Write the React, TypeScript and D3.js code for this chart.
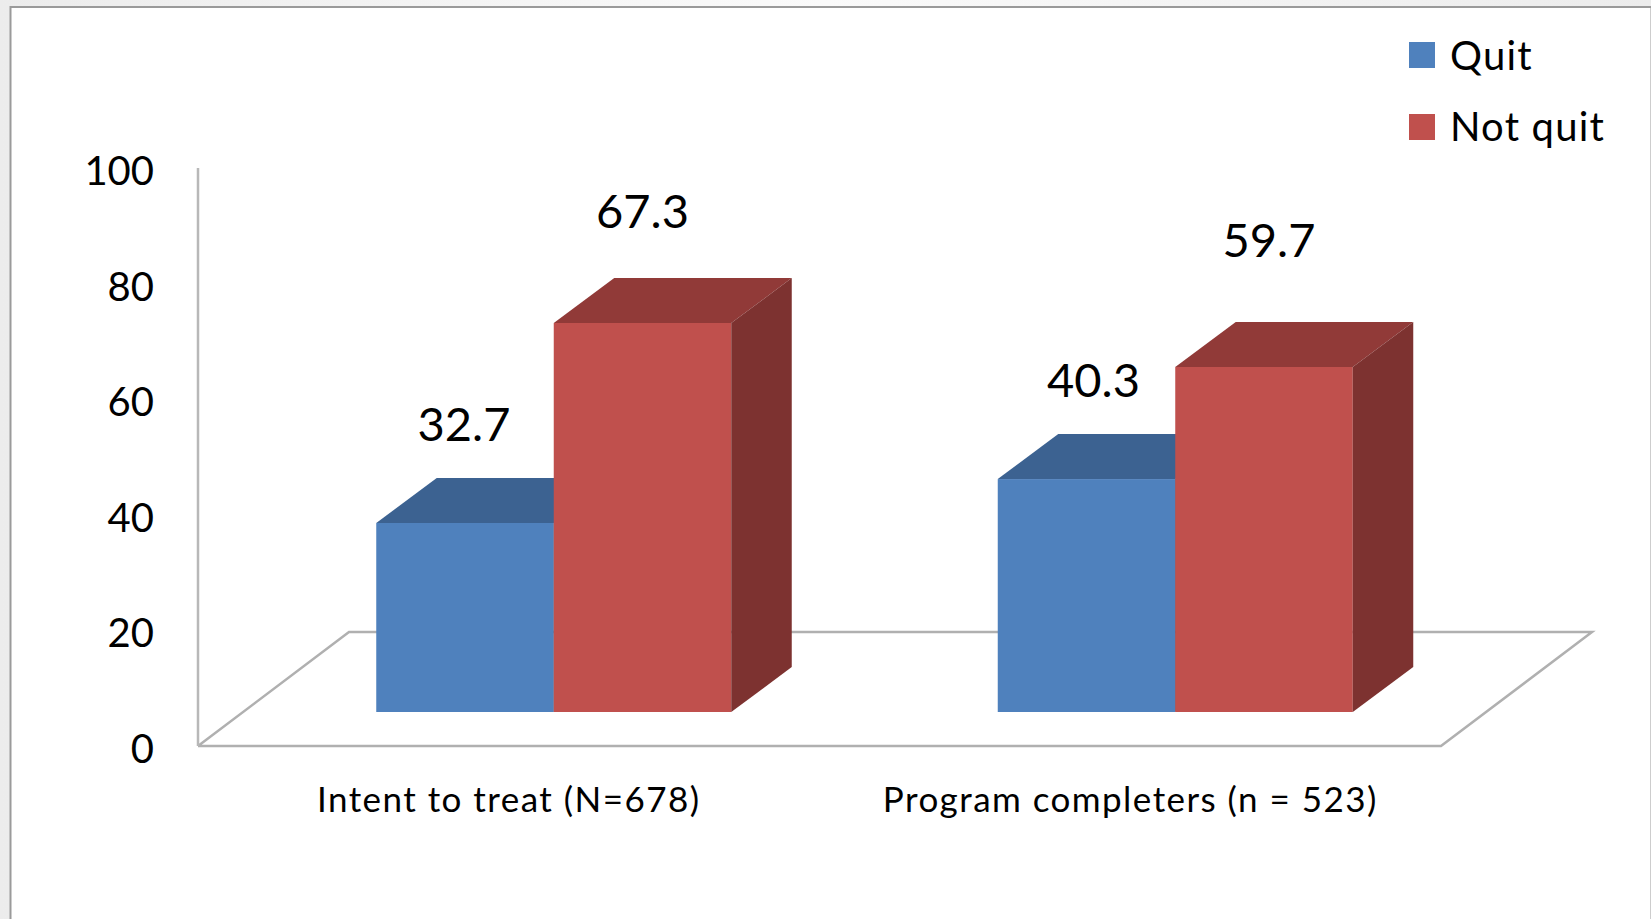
import React from "react";
import * as d3 from "d3";

const categories = ["Intent to treat (N=678)", "Program completers (n = 523)"];
const seriesNames = ["Quit", "Not quit"];
const quitValues = [32.7, 40.3];
const notQuitValues = [67.3, 59.7];
const yTicks = [0, 20, 40, 60, 80, 100];

const FONT = "Lato, 'Open Sans', sans-serif";
const faces = [
  { front: "#4f81bd", top: "#3c6291", side: "#325378" },
  { front: "#c0504d", top: "#913a38", side: "#7d3230" },
];

const W = 1651;
const H = 919;
const axisX = 198;
const floorY = 746;
const plotTop = 168;
const floorW = 1243;
const floorDx = 151;
const floorDy = 114;
// The bars stand part way into the floor, and have a fixed oblique depth.
const inset = { dx: 45, dy: 34 };
const depth = { dx: 60.5, dy: 45 };

const y = d3.scaleLinear().domain([0, 100]).range([floorY, plotTop]);
const xBand = d3.scaleBand<string>().domain(categories).range([axisX, axisX + floorW]);
const xSeries = d3.scaleBand<string>().domain(seriesNames).range([-177.5, 177.5]);

// Hand-placed data label offsets above each bar's front top edge, [quit, not quit].
const labelLift = [[99, 112], [99, 127]];
const labelShift = [[-1, 0], [7, 5]];

const poly = d3.line();

function Bar({ x0, width, value, tone }: { x0: number; width: number; value: number; tone: number }) {
  const bottom = y(0) - inset.dy;
  const top = y(value) - inset.dy;
  const x1 = x0 + width;
  const c = faces[tone];
  return (
    <g>
      <rect x={x0} y={top} width={width} height={bottom - top} fill={c.front} />
      <path
        d={poly([[x0, top], [x0 + depth.dx, top - depth.dy], [x1 + depth.dx, top - depth.dy], [x1, top]]) + "Z"}
        fill={c.top}
      />
      <path
        d={poly([[x1, top], [x1 + depth.dx, top - depth.dy], [x1 + depth.dx, bottom - depth.dy], [x1, bottom]]) + "Z"}
        fill={c.side}
      />
    </g>
  );
}

export default function App() {
  const series = [quitValues, notQuitValues];
  return (
    <svg
      width={W}
      height={H}
      viewBox={`0 0 ${W} ${H}`}
      style={{ position: "absolute", left: 0, top: 0, display: "block" }}
      fontFamily={FONT}
    >
      <defs>
        <linearGradient id="page" x1="0" x2="1" y1="0" y2="0">
          <stop offset="0" stopColor="#ececec" />
          <stop offset="0.5" stopColor="#fafafa" />
          <stop offset="1" stopColor="#ececec" />
        </linearGradient>
      </defs>
      <rect width={W} height={H} fill="url(#page)" />
      <rect x={10.5} y={7} width={W - 10} height={H + 10} fill="#fff" stroke="#9a9a9a" strokeWidth={2} />

      {/* Floor and value axis */}
      <path
        d={
          poly([
            [axisX, y(0)],
            [axisX + floorDx, y(0) - floorDy],
            [axisX + floorDx + floorW, y(0) - floorDy],
            [axisX + floorW, y(0)],
            [axisX, y(0)],
          ]) ?? ""
        }
        fill="none"
        stroke="#b0b0b0"
        strokeWidth={2.5}
      />
      <line x1={axisX} x2={axisX} y1={y(100)} y2={y(0)} stroke="#b8b8b8" strokeWidth={2.5} />

      {yTicks.map((t) => (
        <text key={t} x={154} y={y(t) + 17} textAnchor="end" fontSize={40} fill="#000">
          {t}
        </text>
      ))}

      {categories.map((cat) => (
        <text
          key={cat}
          x={(xBand(cat) ?? 0) + xBand.bandwidth() / 2}
          y={812}
          textAnchor="middle"
          fontSize={35}
          letterSpacing={1.45}
          fill="#000"
        >
          {cat}
        </text>
      ))}

      {/* Bars, drawn left to right so nearer faces overlap correctly */}
      {categories.map((cat, i) => {
        const cx = (xBand(cat) ?? 0) + xBand.bandwidth() / 2 + inset.dx;
        return (
          <g key={cat}>
            {seriesNames.map((name, s) => (
              <Bar
                key={name}
                x0={cx + (xSeries(name) ?? 0)}
                width={xSeries.bandwidth()}
                value={series[s][i]}
                tone={s}
              />
            ))}
          </g>
        );
      })}

      {/* Data labels */}
      {categories.map((cat, i) => {
        const cx = (xBand(cat) ?? 0) + xBand.bandwidth() / 2 + inset.dx;
        return seriesNames.map((name, s) => (
          <text
            key={cat + name}
            x={cx + (xSeries(name) ?? 0) + xSeries.bandwidth() / 2 + labelShift[i][s]}
            y={y(series[s][i]) - inset.dy - labelLift[i][s] + 17}
            textAnchor="middle"
            fontSize={47}
            fill="#000"
          >
            {series[s][i]}
          </text>
        ));
      })}

      {/* Legend */}
      {seriesNames.map((name, s) => (
        <g key={name}>
          <rect x={1409} y={42 + s * 72} width={26} height={26} fill={faces[s].front} />
          <text x={1450} y={70 + s * 71} fontSize={40} letterSpacing={1.2} fill="#000">
            {name}
          </text>
        </g>
      ))}
    </svg>
  );
}
